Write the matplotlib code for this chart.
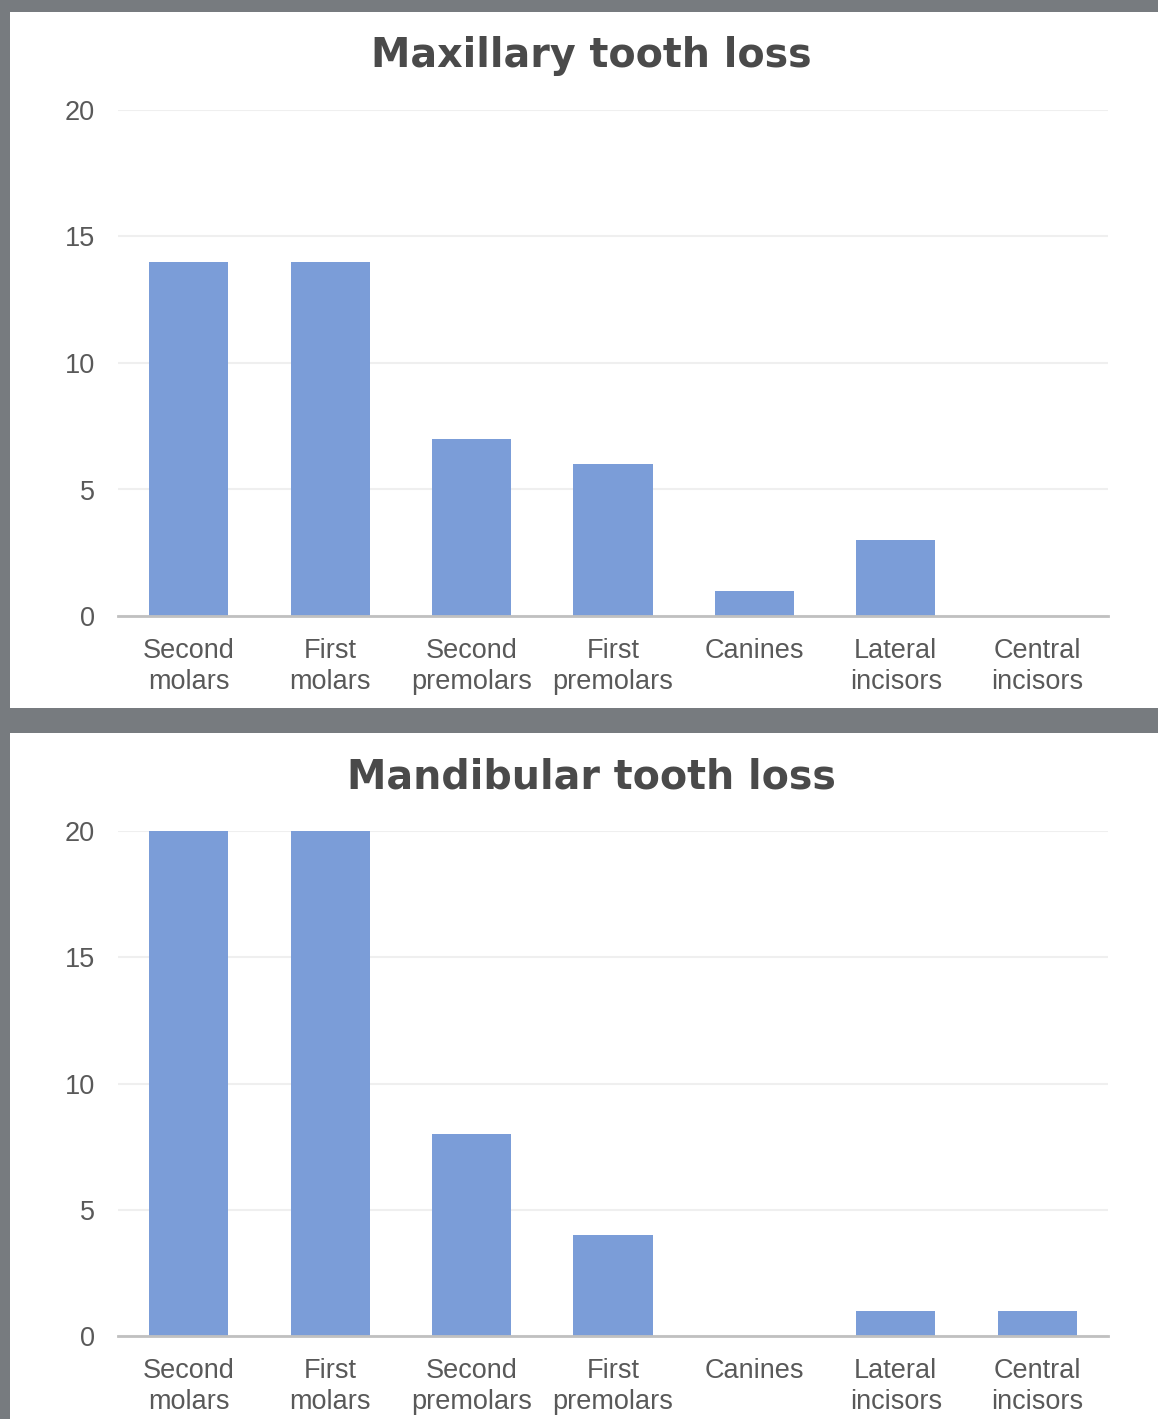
import numpy as np
from matplotlib import pyplot as plt
from matplotlib import rcParams
from matplotlib.patches import Rectangle

rcParams['font.family'] = ['Liberation Sans', 'DejaVu Sans']

teeth = ["Second\nmolars", "First\nmolars", "Second\npremolars", "First\npremolars",
         "Canines", "Lateral\nincisors", "Central\nincisors"]
maxillary = [14, 14, 7, 6, 1, 3, 0]
mandibular = [20, 20, 8, 4, 0, 1, 1]
yticks = [0, 5, 10, 15, 20]

W, H = 1158, 1419
fig = plt.figure(figsize=(W / 100, H / 100), dpi=100)
fig.patch.set_facecolor('#777b7f')

# white card behind each chart (pixel boxes: left, top, right, bottom)
for l, t, r, b in [(10, 12, 1158, 708), (10, 733, 1158, 1419)]:
    fig.add_artist(Rectangle((l / W, 1 - b / H), (r - l) / W, (b - t) / H,
                             transform=fig.transFigure, facecolor='white',
                             edgecolor='none', zorder=0))

def draw(top, bottom, values, title, title_y):
    ax = fig.add_axes([118 / W, 1 - bottom / H, (1108 - 118) / W, (bottom - top) / H])
    ax.set_facecolor('none')
    x = np.arange(len(teeth))
    ax.bar(x, values, width=0.56, color='#7b9dd8', zorder=2)
    ax.set_xlim(-0.5, len(teeth) - 0.5)
    ax.set_ylim(0, 20)
    ax.set_yticks(yticks)
    ax.set_xticks(x)
    ax.set_xticklabels(teeth, linespacing=1.22)
    ax.tick_params(axis='both', length=0, labelsize=19.5, labelcolor='#595959')
    ax.tick_params(axis='x', pad=16)
    ax.tick_params(axis='y', pad=16.5)
    ax.yaxis.grid(True, color='#efefef', lw=1.5, zorder=0)
    for s in ['top', 'right', 'left']:
        ax.spines[s].set_visible(False)
    ax.spines['bottom'].set_color('#c0c0c0')
    ax.spines['bottom'].set_linewidth(2)
    ax.spines['bottom'].set_zorder(3)
    fig.text(591 / W, 1 - title_y / H, title, ha='center', va='center',
             family='DejaVu Sans', fontsize=28.5, fontweight='bold', color='#4a4a4a')
    return ax

draw(110, 616, maxillary, "Maxillary tooth loss", 56)
draw(831, 1336, mandibular, "Mandibular tooth loss", 778)

fig.savefig('out.png', dpi=100, facecolor=fig.get_facecolor())
